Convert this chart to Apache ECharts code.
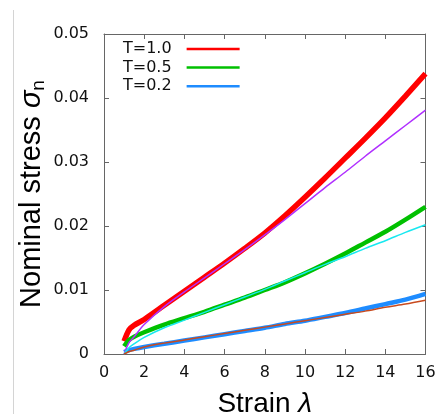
<!DOCTYPE html>
<html>
<head>
<meta charset="utf-8">
<script src="https://cdn.jsdelivr.net/npm/echarts@6/dist/echarts.min.js"></script>
<style>
html,body{margin:0;padding:0;background:#fff;}
#chart{width:435px;height:414px;}
</style>
</head>
<body>
<div id="chart"></div>
<script>
// Strain λ sample positions
const strain = [1, 1.25, 1.5, 2, 3, 4, 5, 6, 7, 8, 9, 10, 11, 12, 13, 14, 15, 16];
// Simulation data (thick lines)
const simT10 = [0.0020, 0.0038, 0.0045, 0.0054, 0.0076, 0.0098, 0.0120, 0.0142, 0.0165, 0.0189, 0.0216, 0.0245, 0.0275, 0.0306, 0.0337, 0.0369, 0.0403, 0.0438];
const simT05 = [0.0012, 0.0022, 0.0027, 0.0034, 0.0046, 0.0056, 0.0066, 0.0077, 0.0088, 0.0100, 0.0112, 0.0126, 0.0141, 0.0157, 0.0174, 0.0191, 0.0210, 0.0230];
const simT02 = [0.0003, 0.0006, 0.0008, 0.0011, 0.0016, 0.0021, 0.0026, 0.0031, 0.0036, 0.0041, 0.0047, 0.0052, 0.0058, 0.0064, 0.0071, 0.0078, 0.0085, 0.0094];
// Fit curves (thin lines)
const fitT10 = [0.0000, 0.0018, 0.0027, 0.0046, 0.0074, 0.0097, 0.0119, 0.0141, 0.0163, 0.0186, 0.0210, 0.0235, 0.0260, 0.0284, 0.0309, 0.0333, 0.0357, 0.0381];
const fitT05 = [0.0000, 0.0010, 0.0016, 0.0026, 0.0041, 0.0053, 0.0065, 0.0077, 0.0089, 0.0101, 0.0114, 0.0127, 0.0140, 0.0152, 0.0165, 0.0177, 0.0190, 0.0202];
const fitT02 = [0.0000, 0.0004, 0.0006, 0.0011, 0.0017, 0.0022, 0.0027, 0.0032, 0.0037, 0.0042, 0.0047, 0.0052, 0.0057, 0.0062, 0.0067, 0.0073, 0.0078, 0.0084];
const legendNames = ['T=1.0', 'T=0.5', 'T=0.2'];
const xTicks = [0, 2, 4, 6, 8, 10, 12, 14, 16];
const yTicks = [0, 0.01, 0.02, 0.03, 0.04, 0.05];

function pairs(xs, ys) { return xs.map((x, i) => [x, ys[i]]); }

const axisColor = '#666';
const tickFont = { fontFamily: 'DejaVu Sans', fontSize: 16, color: '#111' };

const chart = echarts.init(document.getElementById('chart'), null, { renderer: 'canvas' });

function line(name, data, color, width, z) {
  return {
    name: name, type: 'line', data: data, showSymbol: false, symbol: 'none',
    smooth: 0.3, lineStyle: { color: color, width: width }, itemStyle: { color: color },
    z: z, animation: false
  };
}

chart.setOption({
  animation: false,
  backgroundColor: '#fff',
  grid: { left: 104, top: 34, right: 9.5, bottom: 60, containLabel: false, outerBoundsMode: 'none' },
  legend: {
    data: legendNames,
    orient: 'vertical', left: 118, top: 36, align: 'right',
    itemWidth: 53, itemHeight: 2.5, itemGap: 2.6, icon: 'rect',
    textStyle: { fontFamily: 'DejaVu Sans', fontSize: 16, color: '#111', lineHeight: 16, padding: [0, 10, 0, 0] }
  },
  xAxis: [{
    type: 'value', min: 0, max: 16, interval: 2, position: 'bottom',
    name: 'Strain {i|λ}', nameLocation: 'middle', nameGap: 36, nameMoveOverlap: false,
    nameTextStyle: { fontFamily: 'Liberation Sans', fontSize: 28, color: '#000',
      rich: { i: { fontFamily: 'Liberation Sans', fontSize: 28, fontStyle: 'italic', color: '#000' } } },
    axisLine: { show: true, onZero: false, lineStyle: { color: axisColor, width: 1 } },
    axisTick: { show: true, inside: true, length: 5, lineStyle: { color: axisColor } },
    axisLabel: Object.assign({ margin: 11, formatter: v => String(v) }, tickFont),
    splitLine: { show: false }
  }, {
    type: 'value', min: 0, max: 16, interval: 2, position: 'top',
    axisLine: { show: true, onZero: false, lineStyle: { color: axisColor, width: 1 } },
    axisTick: { show: true, inside: true, length: 5, lineStyle: { color: axisColor } },
    axisLabel: { show: false }, splitLine: { show: false }
  }],
  yAxis: [{
    type: 'value', min: 0, max: 0.05, interval: 0.01, position: 'left',
    name: 'Nominal stress {i|σ}{s|n}', nameLocation: 'middle', nameGap: 56, nameRotate: 90, nameMoveOverlap: false,
    nameTextStyle: { fontFamily: 'Liberation Sans', fontSize: 29, color: '#000', verticalAlign: 'bottom',
      rich: {
        i: { fontFamily: 'Liberation Sans', fontSize: 29, fontStyle: 'italic', color: '#000' },
        s: { fontFamily: 'Liberation Sans', fontSize: 19, color: '#000', padding: [14, 0, 0, 0] }
      } },
    axisLine: { show: true, onZero: false, lineStyle: { color: axisColor, width: 1 } },
    axisTick: { show: true, inside: true, length: 5, lineStyle: { color: axisColor } },
    axisLabel: Object.assign({ margin: 15, formatter: v => v === 0 ? '0' : v.toFixed(2) }, tickFont),
    splitLine: { show: false }
  }, {
    type: 'value', min: 0, max: 0.05, interval: 0.01, position: 'right',
    axisLine: { show: true, onZero: false, lineStyle: { color: axisColor, width: 1 } },
    axisTick: { show: true, inside: true, length: 5, lineStyle: { color: axisColor } },
    axisLabel: { show: false }, splitLine: { show: false }
  }],
  graphic: [{
    type: 'line', shape: { x1: 13.5, y1: 10, x2: 13.5, y2: 414 },
    style: { stroke: '#d4d4d4', lineWidth: 1 }, silent: true
  }],
  series: [
    line('T=1.0', pairs(strain, simT10), '#ff0000', 5.5, 2),
    line('T=0.5', pairs(strain, simT05), '#00c000', 4.5, 2),
    line('T=0.2', pairs(strain, simT02), '#1e8cff', 4.5, 2),
    line('fit1', pairs(strain, fitT10), '#b030ff', 1.5, 3),
    line('fit2', pairs(strain, fitT05), '#18e8f0', 1.5, 3),
    line('fit3', pairs(strain, fitT02), '#c84a1e', 1.5, 3)
  ]
});
</script>
</body>
</html>
